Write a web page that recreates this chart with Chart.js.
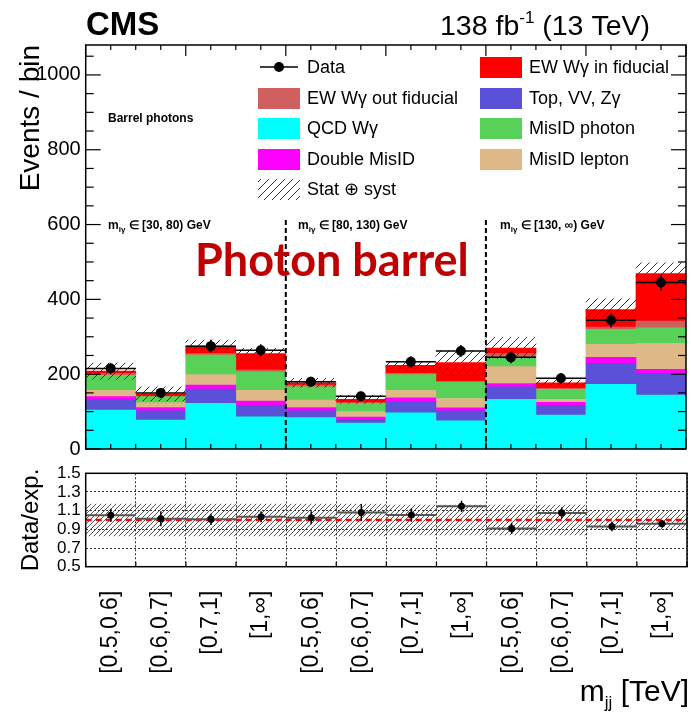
<!DOCTYPE html>
<html lang="en">
<head>
<meta charset="UTF-8">
<title>EW Wγ m_jj distribution, barrel photons</title>
<script src="https://cdn.jsdelivr.net/npm/chart.js"></script>
<style>
  body { margin: 0; background: #fff; }
  #wrap { position: relative; width: 691px; height: 713px; }
  canvas { position: absolute; left: 0; }
</style>
</head>
<body>
<div id="wrap">
  <canvas id="mainPanel" width="691" height="460" style="top:0"></canvas>
  <canvas id="ratioPanel" width="691" height="253" style="top:460px"></canvas>
</div>
<script>
const FONT = '"Liberation Sans", Arial, Helvetica, sans-serif';

// m_jj bins, repeated for the three m_lγ regions
const binLabels = ['[0.5,0.6]', '[0.6,0.7]', '[0.7,1]', '[1,∞]',
                   '[0.5,0.6]', '[0.6,0.7]', '[0.7,1]', '[1,∞]',
                   '[0.5,0.6]', '[0.6,0.7]', '[0.7,1]', '[1,∞]'];
const regionLabels = ['[30, 80) GeV', '[80, 130) GeV', '[130, ∞) GeV'];

// stacked predictions (events / bin), bottom to top
const qcdWg       = [104, 77, 122, 86, 84, 69, 97, 75, 133, 91, 173, 144];
const topVVZg     = [29, 25, 38, 31, 18, 10, 29, 27, 33, 26, 56, 58];
const doubleMisID = [7, 9, 11, 11, 9, 6, 11, 8, 9, 8, 16, 11];
const misIDlepton = [17, 13, 28, 29, 20, 15, 20, 25, 45, 8, 35, 69];
const misIDphoton = [40, 16, 52, 49, 35, 22, 42, 43, 24, 26, 40, 42];
const ewOutFid    = [5, 1, 4, 5, 5, 2, 3, 3, 11, 3, 6, 18];
const ewInFid     = [6, 6, 20, 44, 6, 9, 22, 50, 15, 15, 47, 127];
// stat + syst half width on the total
const totalUnc    = [22, 19, 16, 14, 12, 11, 9, 31, 28, 7, 29, 29];

// data
const dataEvents = [215, 150, 275, 264, 180, 141, 233, 262, 245, 189, 344, 445];
const dataErr    = [15, 12, 17, 16, 13, 12, 15, 16, 16, 14, 19, 21];

// ratio panel
const ratioVals = [1.05, 1.014, 1.007, 1.035, 1.025, 1.08, 1.053, 1.146, 0.91, 1.075, 0.93, 0.96];
const ratioErr  = [0.07, 0.08, 0.06, 0.06, 0.07, 0.09, 0.07, 0.06, 0.06, 0.06, 0.05, 0.04];
const ratioUnc  = [0.17, 0.17, 0.17, 0.17, 0.17, 0.17, 0.16, 0.16, 0.16, 0.16, 0.1, 0.1];

const mainEl = document.getElementById('mainPanel');
const ratioEl = document.getElementById('ratioPanel');

function makeHatch(ctx, size, color, width) {
    const c = document.createElement('canvas');
    c.width = size; c.height = size;
    const g = c.getContext('2d');
    g.strokeStyle = color;
    g.lineWidth = width;
    g.beginPath();
    g.moveTo(0, size); g.lineTo(size, 0);
    g.moveTo(-1, 1); g.lineTo(1, -1);
    g.moveTo(size - 1, size + 1); g.lineTo(size + 1, size - 1);
    g.stroke();
    return ctx.createPattern(c, 'repeat');
}

const hatchMain = makeHatch(mainEl.getContext('2d'), 8, '#333', 1);
const hatchRatio = makeHatch(ratioEl.getContext('2d'), 5, '#444', 0.9);

const mcTotal = binLabels.map((_, i) =>
    qcdWg[i] + topVVZg[i] + doubleMisID[i] + misIDlepton[i] + misIDphoton[i] + ewOutFid[i] + ewInFid[i]);

// draw a run of text pieces (for sub/superscripts)
function richText(ctx, x, y, parts, align) {
    let total = 0;
    parts.forEach(p => {
        ctx.font = (p.bold ? 'bold ' : '') + p.size + 'px ' + (p.family || FONT);
        total += ctx.measureText(p.t).width;
    });
    if (align === 'right') x -= total;
    parts.forEach(p => {
        ctx.font = (p.bold ? 'bold ' : '') + p.size + 'px ' + (p.family || FONT);
        ctx.fillText(p.t, x, y + (p.dy || 0));
        x += ctx.measureText(p.t).width;
    });
}

function binEdge(xs, i) {
    const w = xs.getPixelForValue(1) - xs.getPixelForValue(0);
    return xs.getPixelForValue(0) + (i - 0.5) * w;
}

function vline(ctx, x, y0, y1) { ctx.beginPath(); ctx.moveTo(x, y0); ctx.lineTo(x, y1); ctx.stroke(); }
function hline(ctx, y, x0, x1) { ctx.beginPath(); ctx.moveTo(x0, y); ctx.lineTo(x1, y); ctx.stroke(); }

// keep the plot frame where it is, whatever the label overflow
function noPad(s) {
    s.paddingTop = 0; s.paddingBottom = 0; s.paddingLeft = 0; s.paddingRight = 0;
}

const mainPlugin = {
    id: 'mainExtras',
    afterDatasetDraw(chart, args) {
        if (args.index !== 1) return;
        const ctx = chart.ctx, xs = chart.scales.x, ys = chart.scales.y;
        ctx.save();
        // region separators
        ctx.strokeStyle = '#000';
        ctx.lineWidth = 2;
        ctx.setLineDash([5, 3]);
        [4, 8].forEach(i => vline(ctx, binEdge(xs, i), ys.getPixelForValue(0), ys.getPixelForValue(620)));
        ctx.setLineDash([]);
        // data error bars
        ctx.lineWidth = 1.5;
        dataEvents.forEach((v, i) => {
            const y = ys.getPixelForValue(v);
            hline(ctx, y, binEdge(xs, i), binEdge(xs, i + 1));
            vline(ctx, xs.getPixelForValue(i), ys.getPixelForValue(v - dataErr[i]), ys.getPixelForValue(v + dataErr[i]));
        });
        ctx.restore();
    },
    afterDraw(chart) {
        const ctx = chart.ctx, xs = chart.scales.x, ys = chart.scales.y;
        const a = chart.chartArea;
        ctx.save();
        ctx.strokeStyle = '#000';
        ctx.lineWidth = 1.5;
        ctx.strokeRect(a.left, a.top, a.right - a.left, a.bottom - a.top);
        // inward ticks
        ctx.lineWidth = 1.2;
        ys.ticks.forEach(t => {
            const y = ys.getPixelForValue(t.value);
            const len = t.value % 200 === 0 ? 15 : 8;
            hline(ctx, y, a.left, a.left + len);
            hline(ctx, y, a.right - len, a.right);
        });
        for (let k = 0; k <= 24; k++) {
            const x = binEdge(xs, k / 2);
            const len = k % 4 === 0 ? 11 : 5;
            vline(ctx, x, a.bottom, a.bottom - len);
            vline(ctx, x, a.top, a.top + len);
        }
        // headers
        ctx.fillStyle = '#000';
        ctx.textBaseline = 'alphabetic';
        ctx.textAlign = 'left';
        richText(ctx, 86, 35, [{t: 'CMS', size: 33, bold: true}]);
        richText(ctx, 440, 35, [{t: '138 fb', size: 28.5}, {t: '-1', size: 17, dy: -12}, {t: ' (13 TeV)', size: 28.5}]);
        richText(ctx, 108, 122, [{t: 'Barrel photons', size: 12, bold: true}]);
        [108, 298, 500].forEach((x, r) => {
            richText(ctx, x, 229, [{t: 'm', size: 12, bold: true}, {t: 'lγ', size: 8, bold: true, dy: 3},
                                   {t: ' ∈ ' + regionLabels[r], size: 12, bold: true}]);
        });
        ctx.fillStyle = '#c00000';
        richText(ctx, 195, 276, [{t: 'Photon barrel', size: 45, bold: true, family: 'Lato, "Open Sans", sans-serif'}]);

        // legend
        const ds = chart.data.datasets;
        const find = l => ds.find(d => d.label === l);
        const rows = [67, 98, 128, 159, 189];
        const cols = [
            ['Data', 'EW Wγ out fiducial', 'QCD Wγ', 'Double MisID', 'Stat ⊕ syst'],
            ['EW Wγ in fiducial', 'Top, VV, Zγ', 'MisID photon', 'MisID lepton']
        ];
        const colX = [258, 480];
        ctx.textBaseline = 'middle';
        cols.forEach((col, c) => col.forEach((label, r) => {
            const x = colX[c], y = rows[r];
            if (label === 'Data') {
                ctx.strokeStyle = '#000';
                ctx.lineWidth = 1.5;
                hline(ctx, y, x + 2, x + 40);
                ctx.fillStyle = '#000';
                ctx.beginPath(); ctx.arc(x + 21, y, 5, 0, Math.PI * 2); ctx.fill();
            } else {
                const d = find(label);
                ctx.fillStyle = d ? d.backgroundColor : '#000';
                ctx.fillRect(x, y - 10, 42, 21);
            }
            ctx.fillStyle = '#000';
            ctx.font = '18px ' + FONT;
            ctx.fillText(label, x + 49, y + 1);
        }));
        ctx.restore();
    }
};

const stackDs = (label, data, color) => ({
    label, data, backgroundColor: color, stack: 'mc', borderWidth: 0
});

new Chart(mainEl, {
    type: 'bar',
    data: {
        labels: binLabels,
        datasets: [
            {
                type: 'line', label: 'Data', data: dataEvents, stack: 'data',
                showLine: false, pointRadius: 5, pointBackgroundColor: '#000',
                pointBorderWidth: 0, borderColor: '#000'
            },
            {
                label: 'Stat ⊕ syst', stack: 'unc', grouped: false,
                data: mcTotal.map((t, i) => [t - totalUnc[i], t + totalUnc[i]]),
                backgroundColor: hatchMain, borderWidth: 0
            },
            stackDs('QCD Wγ', qcdWg, '#00ffff'),
            stackDs('Top, VV, Zγ', topVVZg, '#5b50d8'),
            stackDs('Double MisID', doubleMisID, '#ff00ff'),
            stackDs('MisID lepton', misIDlepton, '#deb887'),
            stackDs('MisID photon', misIDphoton, '#58d158'),
            stackDs('EW Wγ out fiducial', ewOutFid, '#d05f5f'),
            stackDs('EW Wγ in fiducial', ewInFid, '#ff0000')
        ]
    },
    options: {
        responsive: false,
        animation: false,
        devicePixelRatio: 1,
        categoryPercentage: 1,
        barPercentage: 1,
        layout: { padding: { top: 45, right: 1.5, bottom: 11, left: 0 } },
        plugins: { legend: { display: false }, tooltip: { enabled: false } },
        scales: {
            x: { stacked: true, display: false },
            y: {
                stacked: true, min: 0, max: 1080,
                afterFit: s => { s.width = 85.7; noPad(s); },
                grid: { display: false, drawTicks: false },
                border: { display: false },
                ticks: {
                    stepSize: 50, includeBounds: false, autoSkip: false, padding: 5,
                    color: '#000', font: { family: FONT, size: 20 },
                    callback: v => (v % 200 === 0 ? v : '')
                },
                title: {
                    display: true, text: 'Events / bin', align: 'end', color: '#000',
                    font: { family: FONT, size: 28 }, padding: { top: 14, bottom: 0 }
                }
            }
        }
    },
    plugins: [mainPlugin]
});

const ratioPlugin = {
    id: 'ratioExtras',
    afterDatasetDraw(chart, args) {
        if (args.index !== 1) return;
        const ctx = chart.ctx, xs = chart.scales.x, ys = chart.scales.y;
        const a = chart.chartArea;
        ctx.save();
        ctx.strokeStyle = '#ff0000';
        ctx.lineWidth = 2.5;
        ctx.setLineDash([6, 4]);
        hline(ctx, ys.getPixelForValue(1), a.left, a.right);
        ctx.setLineDash([]);
        ctx.strokeStyle = '#555';
        ctx.lineWidth = 2;
        ratioVals.forEach((v, i) => hline(ctx, ys.getPixelForValue(v), binEdge(xs, i), binEdge(xs, i + 1)));
        ctx.strokeStyle = '#000';
        ctx.lineWidth = 1.5;
        ratioVals.forEach((v, i) => vline(ctx, xs.getPixelForValue(i),
            ys.getPixelForValue(v - ratioErr[i]), ys.getPixelForValue(v + ratioErr[i])));
        ctx.restore();
    },
    afterDraw(chart) {
        const ctx = chart.ctx, xs = chart.scales.x;
        const a = chart.chartArea;
        ctx.save();
        ctx.strokeStyle = '#000';
        ctx.lineWidth = 1.5;
        ctx.strokeRect(a.left, a.top, a.right - a.left, a.bottom - a.top);
        ctx.lineWidth = 1.2;
        for (let k = 0; k <= 12; k++) vline(ctx, binEdge(xs, k), a.bottom, a.bottom - 5);
        ctx.fillStyle = '#000';
        ctx.textBaseline = 'alphabetic';
        richText(ctx, 689, 241, [{t: 'm', size: 30}, {t: 'jj', size: 17, dy: 7}, {t: ' [TeV]', size: 30}], 'right');
        ctx.restore();
    }
};

new Chart(ratioEl, {
    type: 'bar',
    data: {
        labels: binLabels,
        datasets: [
            {
                type: 'line', label: 'Data/exp.', data: ratioVals,
                showLine: false, pointRadius: 3.5, pointBackgroundColor: '#000',
                pointBorderWidth: 0, borderColor: '#000'
            },
            {
                label: 'Uncertainty', grouped: false,
                data: ratioUnc.map(u => [1 - u, 1 + u]),
                backgroundColor: hatchRatio, borderWidth: 0
            }
        ]
    },
    options: {
        responsive: false,
        animation: false,
        devicePixelRatio: 1,
        categoryPercentage: 1,
        barPercentage: 1,
        layout: { padding: { top: 13.3, right: 1.5, bottom: 0, left: 0 } },
        plugins: { legend: { display: false }, tooltip: { enabled: false } },
        scales: {
            x: {
                afterFit: s => { s.height = 146.3; noPad(s); },
                grid: { drawTicks: false, color: '#333', lineWidth: 1 },
                border: { display: false, dash: [2, 2] },
                ticks: {
                    autoSkip: false, minRotation: 90, maxRotation: 90, padding: 24,
                    color: '#000', font: { family: FONT, size: 23 }
                }
            },
            y: {
                min: 0.5, max: 1.5,
                afterFit: s => { s.width = 85.7; noPad(s); },
                grid: {
                    drawTicks: false, lineWidth: 1,
                    color: c => (c.tick && (Math.abs(c.tick.value - 0.5) < 1e-6 || Math.abs(c.tick.value - 1.5) < 1e-6)) ? 'rgba(0,0,0,0)' : '#333'
                },
                border: { display: false, dash: [2, 2] },
                ticks: {
                    stepSize: 0.2, autoSkip: false, padding: 5, color: '#000',
                    font: { family: FONT, size: 17 },
                    callback: v => v.toFixed(1)
                },
                title: {
                    display: true, text: 'Data/exp.', color: '#000',
                    font: { family: FONT, size: 24 }, padding: { top: 17, bottom: 0 }
                }
            }
        }
    },
    plugins: [ratioPlugin]
});
</script>
</body>
</html>
